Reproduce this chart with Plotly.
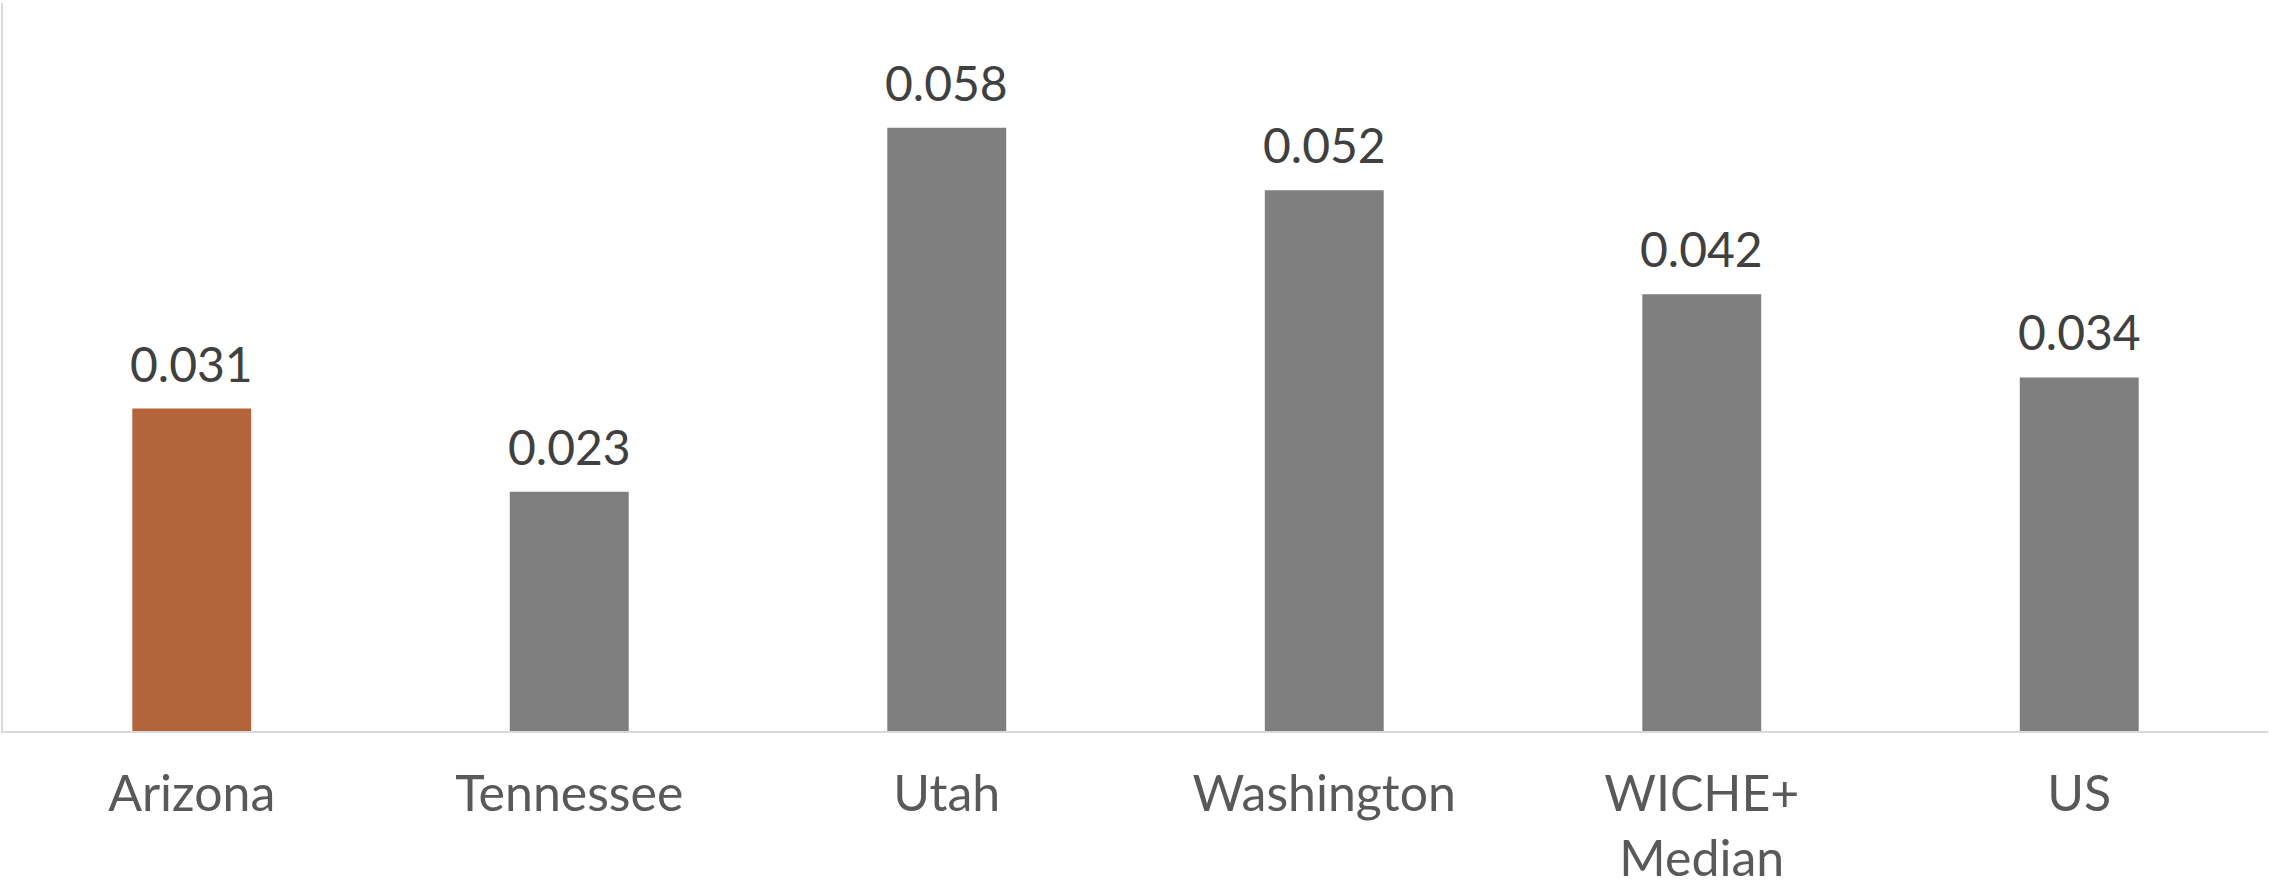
import plotly.graph_objects as go

states = ["Arizona", "Tennessee", "Utah", "Washington", "WICHE+<br>Median", "US"]
values = [0.031, 0.023, 0.058, 0.052, 0.042, 0.034]
bar_colors = ["#B3643A", "#7F7F7F", "#7F7F7F", "#7F7F7F", "#7F7F7F", "#7F7F7F"]

fig = go.Figure(go.Bar(
    x=states,
    y=values,
    marker=dict(color=bar_colors, line=dict(width=0)),
    width=0.315,
))

# value labels above each bar
for state, value in zip(states, values):
    fig.add_annotation(
        x=state, y=value, text=f"{value:.3f}",
        showarrow=False, yanchor="bottom", yshift=15,
        font=dict(family="Lato", size=48, color="#404040"),
    )

fig.update_layout(
    width=2269,
    height=882,
    margin=dict(l=3, r=1, t=3, b=151),
    plot_bgcolor="white",
    paper_bgcolor="white",
    showlegend=False,
    xaxis=dict(
        showline=True, linecolor="#D9D9D9", linewidth=2,
        ticks="outside", ticklen=18, tickcolor="white",
        tickfont=dict(family="Lato", size=50, color="#595959"),
        showgrid=False, automargin=False,
    ),
    yaxis=dict(
        range=[0, 0.07],
        showline=True, linecolor="#D9D9D9", linewidth=2,
        showticklabels=False, showgrid=False, zeroline=False,
        ticks="", automargin=False,
    ),
)

# page has a default body margin; drop it so the chart fills the window
fig.write_html(
    "out.html",
    config={"displayModeBar": False},
    post_script="document.body.style.margin='0px';",
)
